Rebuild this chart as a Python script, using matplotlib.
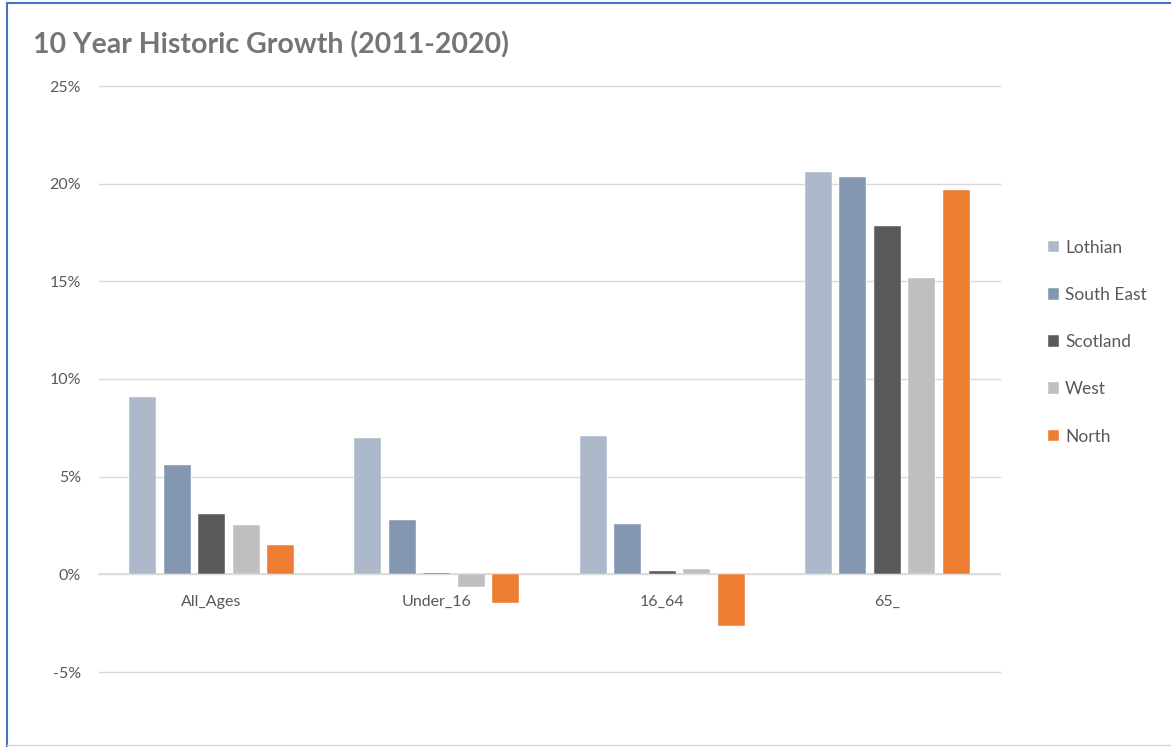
import numpy as np
import matplotlib
matplotlib.use("Agg")
import matplotlib.pyplot as plt
from matplotlib.ticker import FuncFormatter
from matplotlib.lines import Line2D

# values (% growth 2011-2020)
categories = ["All_Ages", "Under_16", "16_64", "65_"]
lothian = [9.07, 6.96, 7.07, 20.59]
south_east = [5.61, 2.76, 2.60, 20.36]
scotland = [3.10, 0.09, 0.18, 17.83]
west = [2.51, -0.65, 0.27, 15.16]
north = [1.52, -1.47, -2.64, 19.67]

series = [("Lothian", lothian, "#ADB9CA"),
          ("South East", south_east, "#8497B0"),
          ("Scotland", scotland, "#595959"),
          ("West", west, "#BFBFBF"),
          ("North", north, "#ED7D31")]

plt.rcParams['font.family'] = ['Lato', 'DejaVu Sans']

fig = plt.figure(figsize=(11.71, 7.47), dpi=100)
ax = fig.add_axes([99 / 1171, 1 - 672 / 747, 901 / 1171, (672 - 86) / 747])

x = np.arange(len(categories))
step = 0.153
width = 0.12
for i, (name, vals, col) in enumerate(series):
    ax.bar(x + (i - 2) * step, vals, width, color=col, label=name,
           edgecolor="white", linewidth=0.3, zorder=3)

ax.set_xlim(-0.5, 3.5)
ax.set_ylim(-5, 25)
ax.set_yticks(np.arange(-5, 26, 5))
ax.yaxis.set_major_formatter(FuncFormatter(lambda v, p: f"{v:.0f}%"))
ax.set_xticks(x)
ax.set_xticklabels(categories)
ax.tick_params(axis="both", length=0, colors="#595959", labelsize=11.5)
ax.tick_params(axis="y", pad=13)
ax.tick_params(axis="x", pad=15)
ax.grid(axis="y", color="#D9D9D9", linewidth=1, zorder=0)
for gl in ax.get_ygridlines():
    gl.set_clip_on(False)
for name in ["top", "right", "left"]:
    ax.spines[name].set_visible(False)
ax.spines["bottom"].set_position(("data", 0))
ax.spines["bottom"].set_color("#D9D9D9")
ax.spines["bottom"].set_linewidth(1.2)
ax.spines["bottom"].set_zorder(2)

leg = fig.legend(loc="upper left", bbox_to_anchor=(1032 / 1171, 1 - 224 / 747),
                 frameon=False, fontsize=12.5, labelcolor="#595959",
                 handlelength=0.65, handleheight=0.65, handletextpad=0.35,
                 labelspacing=1.8)

fig.text(33 / 1171, 1 - 45 / 747, "10 Year Historic Growth (2011-2020)",
         fontsize=20.5, fontweight="bold", color="#757575", va="center")

# chart frame
fig.add_artist(Line2D([7 / 1171, 7 / 1171], [0, 1 - 3 / 747], color="#4472C4", lw=1.5))
fig.add_artist(Line2D([7 / 1171, 1], [1 - 3 / 747, 1 - 3 / 747], color="#4472C4", lw=1.5))
fig.add_artist(Line2D([7 / 1171, 1], [2 / 747, 2 / 747], color="#D9D9D9", lw=1))

fig.savefig("out.png", dpi=100)
